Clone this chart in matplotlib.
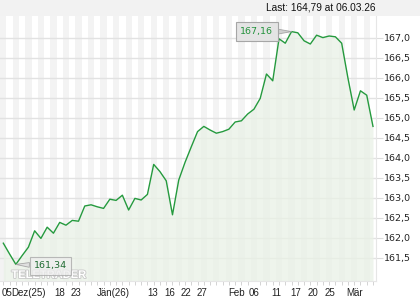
import matplotlib
matplotlib.use("Agg")
import matplotlib.pyplot as plt
import matplotlib.patheffects as pe
import numpy as np

values = [161.87, 161.60, 161.34, 161.56, 161.77, 162.18, 161.99, 162.27, 162.12, 162.39,
          162.32, 162.44, 162.42, 162.80, 162.83, 162.78, 162.74, 162.97, 162.94, 163.07,
          162.70, 162.99, 162.95, 163.09, 163.84, 163.66, 163.43, 162.58, 163.45, 163.89,
          164.28, 164.66, 164.79, 164.70, 164.62, 164.66, 164.72, 164.90, 164.93, 165.10,
          165.22, 165.49, 166.10, 165.93, 166.98, 166.87, 167.16, 167.13, 166.93, 166.85,
          167.07, 167.01, 167.05, 167.03, 166.87, 166.00, 165.20, 165.68, 165.57, 164.79]
tick_pos = [0.55, 4.05, 9.0, 11.56, 17.6, 23.76, 26.6, 29.2, 31.7, 37.3, 40.0, 43.6, 46.6, 49.4, 52.2, 56.1]
tick_labels = ["05", "Dez(25)", "18", "23", "Jän(26)", "13", "16", "22", "27",
               "Feb", "06", "11", "17", "20", "25", "Mär"]
y_ticks = [161.5, 162.0, 162.5, 163.0, 163.5, 164.0, 164.5, 165.0, 165.5, 166.0, 166.5, 167.0]
last_text = "Last: 164,79 at 06.03.26"

plt.rcParams['font.family'] = ['Liberation Sans', 'DejaVu Sans']

fig = plt.figure(figsize=(4.2, 3.0), dpi=100)
fig.patch.set_facecolor("white")
# header band
fig.patches.append(matplotlib.patches.Rectangle((0, 1 - 16/300), 1, 16/300, transform=fig.transFigure,
                                                 facecolor="#f2f2f2", edgecolor="none", zorder=0))
ax = fig.add_axes([0.0, 19/300, 376/420, 265/300])
ax.set_facecolor("white")

x = np.arange(len(values))
ax.set_xlim(-0.53, 59.48)
ax.set_ylim(160.925, 167.55)

# vertical stripes
for i in range(-1, len(values) + 1):
    if i % 2 == 0:
        ax.axvspan(i - 0.5, i + 0.5, facecolor="#f3f3f3", edgecolor="none", zorder=0)

for yv in y_ticks:
    ax.axhline(yv, color="#e2e2e2", lw=1.0, zorder=1)

ax.fill_between(x, values, 160.925, color="#e9f1e6", alpha=0.75, zorder=2, lw=0)
ax.plot(x, values, color="#259a3e", lw=1.0, zorder=3)

for s in ["top", "left"]:
    ax.spines[s].set_visible(False)
ax.spines["right"].set_color("#e6e6e6")
ax.spines["bottom"].set_color("#e6e6e6")

ax.yaxis.tick_right()
ax.set_yticks(y_ticks)
ax.set_yticklabels([f"{v:.1f}".replace(".", ",") for v in y_ticks], fontfamily="DejaVu Sans")
ax.tick_params(axis="y", length=5, color="#dddddd", labelsize=6.8, pad=1, labelcolor="#222222")

ax.set_xticks(tick_pos)
ax.set_xticklabels(tick_labels)
ax.set_xticks(x, minor=True)
ax.tick_params(axis="x", which="major", length=0, labelsize=7, pad=5, labelcolor="#222222")
ax.tick_params(axis="x", which="minor", length=3, color="#cccccc")

# watermark
ax.text(1.3, 161.0, "TELETRADER", fontsize=8, color="white", fontweight="bold",
        path_effects=[pe.withStroke(linewidth=1.2, foreground="#c8c8c8")], zorder=4)

# max / min annotations
imax = int(np.argmax(values))
imin = int(np.argmin(values))
ax.annotate(f"{values[imax]:.2f}".replace(".", ","), xy=(imax, values[imax]),
            xytext=(-25, 0), textcoords="offset points", ha="center", va="center",
            fontsize=6.8, color="#23923c", zorder=6, fontfamily="DejaVu Sans",
            bbox=dict(boxstyle="square,pad=0.5", fc="#e4e4e4", ec="#a6a6a6", lw=0.8),
            arrowprops=dict(arrowstyle="wedge,tail_width=0.5", fc="#d0d0d0", ec="#a6a6a6", lw=0.6,
                            shrinkA=0, shrinkB=0))
ax.annotate(f"{values[imin]:.2f}".replace(".", ","), xy=(imin, values[imin]),
            xytext=(25, -1), textcoords="offset points", ha="center", va="center",
            fontsize=6.8, color="#1e6a30", zorder=6, fontfamily="DejaVu Sans",
            bbox=dict(boxstyle="square,pad=0.45", fc="#eeeeee", ec="#a6a6a6", lw=0.8, alpha=0.75),
            arrowprops=dict(arrowstyle="wedge,tail_width=0.5", fc="#e0e0e0", ec="#a6a6a6", lw=0.6,
                            shrinkA=0, shrinkB=0))

fig.text(375/420, 1 - 8/300, last_text, ha="right", va="center", fontsize=7.3, color="#111111")

fig.savefig("out.png", dpi=100)
